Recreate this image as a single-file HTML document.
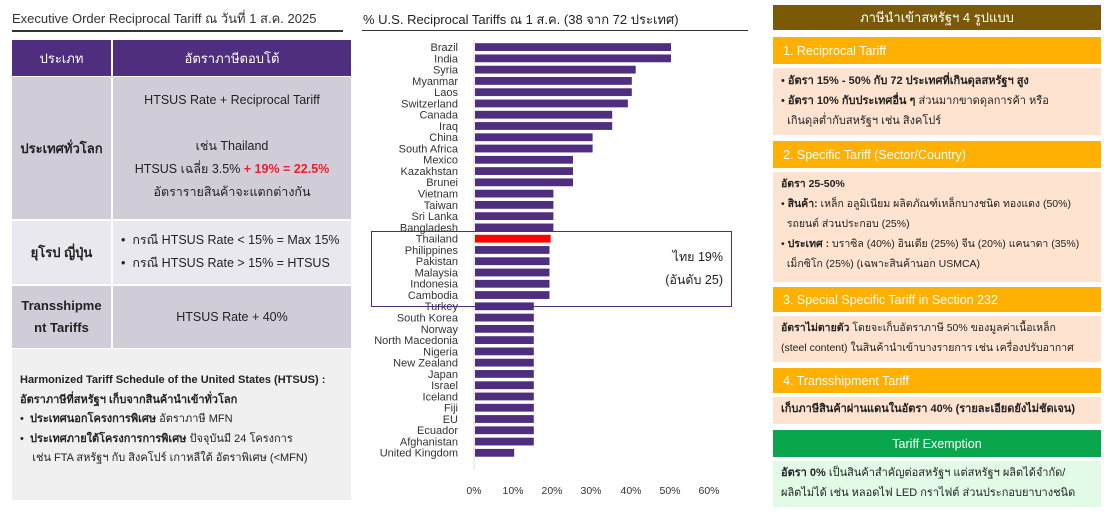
<!DOCTYPE html>
<html><head><meta charset="utf-8"><style>
*{box-sizing:border-box;margin:0;padding:0}
body{width:1104px;height:514px;background:#fff;position:relative;overflow:hidden;font-family:"Liberation Sans","Noto Sans CJK SC",sans-serif;color:#222}
.a{position:absolute}
.c{display:flex;align-items:center;justify-content:center;text-align:center}
.rh{color:#fff;font-size:12.5px;padding-left:10px;display:flex;align-items:center}
.rb{background:#fde3d0;font-size:11px;line-height:20px;padding:2px 8px;white-space:nowrap;overflow:hidden}
b{font-weight:bold}
</style></head><body>
<div class="a" style="left:12px;top:8px;font-size:13px;color:#333">Executive Order Reciprocal Tariff ณ วันที่ 1 ส.ค. 2025</div>
<div class="a" style="left:12px;top:30px;width:331px;height:2px;background:#333"></div>
<div class="a c" style="left:12px;top:40px;width:99px;height:36px;background:#4f2d7f;color:#fff;font-size:13px">ประเภท</div>
<div class="a c" style="left:113px;top:40px;width:238px;height:36px;background:#4f2d7f;color:#fff;font-size:13px">อัตราภาษีตอบโต้</div>
<div class="a c" style="left:12px;top:77px;width:99px;height:142px;background:#d0cdd9;font-size:13px;font-weight:bold">ประเทศทั่วโลก</div>
<div class="a" style="left:113px;top:77px;width:238px;height:142px;background:#d0cdd9;font-size:12.5px;text-align:center;line-height:23px;padding-top:12px">HTSUS Rate + Reciprocal Tariff<br><br>เช่น Thailand<br>HTSUS เฉลี่ย 3.5% <b style="color:#e8202a">+ 19% = 22.5%</b><br>อัตรารายสินค้าจะแตกต่างกัน</div>
<div class="a c" style="left:12px;top:221px;width:99px;height:63px;background:#e9e8ee;font-size:13px;font-weight:bold">ยุโรป ญี่ปุ่น</div>
<div class="a" style="left:113px;top:221px;width:238px;height:63px;background:#e9e8ee;font-size:12.5px;line-height:23px;padding:8px 0 0 8px">•&nbsp; กรณี HTSUS Rate &lt; 15% = Max 15%<br>•&nbsp; กรณี HTSUS Rate &gt; 15% = HTSUS</div>
<div class="a c" style="left:12px;top:286px;width:99px;height:62px;background:#d0cdd9;font-size:13px;font-weight:bold;line-height:22px">Transshipme<br>nt Tariffs</div>
<div class="a c" style="left:113px;top:286px;width:238px;height:62px;background:#d0cdd9;font-size:12.5px">HTSUS Rate + 40%</div>
<div class="a" style="left:12px;top:349px;width:339px;height:151px;background:#f0f0f0;font-size:11px;line-height:19.5px;padding:22px 0 0 8px"><b>Harmonized Tariff Schedule of the United States (HTSUS) :<br>อัตราภาษีที่สหรัฐฯ เก็บจากสินค้านำเข้าทั่วโลก</b><br>•&nbsp; <b>ประเทศนอกโครงการพิเศษ</b> อัตราภาษี MFN<br>•&nbsp; <b>ประเทศภายใต้โครงการการพิเศษ</b> ปัจจุบันมี 24 โครงการ<br>&nbsp;&nbsp;&nbsp;&nbsp;เช่น FTA สหรัฐฯ กับ สิงคโปร์ เกาหลีใต้ อัตราพิเศษ (&lt;MFN)</div>

<div class="a" style="left:363px;top:9px;font-size:13px;color:#222">% U.S. Reciprocal Tariffs ณ 1 ส.ค. (38 จาก 72 ประเทศ)</div>
<div class="a" style="left:362px;top:30px;width:386px;height:1px;background:#333"></div>
<svg class="a" style="left:0;top:0" width="1104" height="514">
<line x1="474" y1="40" x2="474" y2="470" stroke="#ddd"/>
<g font-family="Liberation Sans,sans-serif" font-size="11" fill="#333" text-anchor="end" id="g"></g>
<rect x="371.5" y="231.5" width="360" height="75" fill="none" stroke="#4f2d7f"/>
<text x="723" y="261" font-size="12.5" text-anchor="end" fill="#222" font-family="Liberation Sans,Noto Sans CJK SC,sans-serif">ไทย 19%</text>
<text x="723" y="284" font-size="12.5" text-anchor="end" fill="#222" font-family="Liberation Sans,Noto Sans CJK SC,sans-serif">(อันดับ 25)</text>
<g font-size="10.5" fill="#333" text-anchor="middle" font-family="Liberation Sans,sans-serif">
<text x="474" y="494">0%</text><text x="513" y="494">10%</text><text x="552" y="494">20%</text><text x="591" y="494">30%</text><text x="631" y="494">40%</text><text x="670" y="494">50%</text><text x="709" y="494">60%</text></g>
</svg>
<script>
var d=[["Brazil",50],["India",50],["Syria",41],["Myanmar",40],["Laos",40],["Switzerland",39],["Canada",35],["Iraq",35],["China",30],["South Africa",30],["Mexico",25],["Kazakhstan",25],["Brunei",25],["Vietnam",20],["Taiwan",20],["Sri Lanka",20],["Bangladesh",20],["Thailand",19.3],["Philippines",19],["Pakistan",19],["Malaysia",19],["Indonesia",19],["Cambodia",19],["Turkey",15],["South Korea",15],["Norway",15],["North Macedonia",15],["Nigeria",15],["New Zealand",15],["Japan",15],["Israel",15],["Iceland",15],["Fiji",15],["EU",15],["Ecuador",15],["Afghanistan",15],["United Kingdom",10]];
var s="",g=document.getElementById("g");
d.forEach(function(r,i){var y=47+i*11.27;s+='<rect x="475" y="'+(y-3.8)+'" width="'+(r[1]*3.92)+'" height="7.8" fill="'+(r[0]=="Thailand"?"#ff0000":"#4f2d7f")+'"/><text x="458" y="'+(y+4)+'">'+r[0]+'</text>';});
g.innerHTML=s;
</script>

<div class="a c" style="left:773px;top:5px;width:328px;height:25px;background:#7a5a06;color:#fff;font-size:13px">ภาษีนำเข้าสหรัฐฯ 4 รูปแบบ</div>
<div class="a rh" style="left:773px;top:37px;width:328px;height:27px;background:#ffb000">1. Reciprocal Tariff</div>
<div class="a rb" style="left:773px;top:68px;width:328px;height:67px;padding-top:3px">• <b>อัตรา 15% - 50% กับ 72 ประเทศที่เกินดุลสหรัฐฯ สูง</b><br>• <b>อัตรา 10% กับประเทศอื่น ๆ</b> ส่วนมากขาดดุลการค้า หรือ<br>&nbsp;&nbsp;เกินดุลต่ำกับสหรัฐฯ เช่น สิงคโปร์</div>
<div class="a rh" style="left:773px;top:141px;width:328px;height:27px;background:#ffb000">2. Specific Tariff (Sector/Country)</div>
<div class="a rb" style="left:773px;top:172px;width:328px;height:110px;padding-top:2px;font-size:10.5px"><b>อัตรา 25-50%</b><br>• <b>สินค้า:</b> เหล็ก อลูมิเนียม ผลิตภัณฑ์เหล็กบางชนิด ทองแดง (50%)<br>&nbsp;&nbsp;รถยนต์ ส่วนประกอบ (25%)<br>• <b>ประเทศ :</b> บราซิล (40%) อินเดีย (25%) จีน (20%) แคนาดา (35%)<br>&nbsp;&nbsp;เม็กซิโก (25%) (เฉพาะสินค้านอก USMCA)</div>
<div class="a rh" style="left:773px;top:287px;width:328px;height:25px;background:#ffb000">3. Special Specific Tariff in Section 232</div>
<div class="a rb" style="left:773px;top:316px;width:328px;height:46px;font-size:10.5px"><b>อัตราไม่ตายตัว</b> โดยจะเก็บอัตราภาษี 50% ของมูลค่าเนื้อเหล็ก<br>(steel content) ในสินค้านำเข้าบางรายการ เช่น เครื่องปรับอากาศ</div>
<div class="a rh" style="left:773px;top:368px;width:328px;height:25px;background:#ffb000">4. Transshipment Tariff</div>
<div class="a rb" style="left:773px;top:397px;width:328px;height:27px"><b>เก็บภาษีสินค้าผ่านแดนในอัตรา 40% (รายละเอียดยังไม่ชัดเจน)</b></div>
<div class="a c" style="left:773px;top:430px;width:328px;height:27px;background:#0aa64c;color:#fff;font-size:12.5px">Tariff Exemption</div>
<div class="a rb" style="left:773px;top:461px;width:328px;height:46px;background:#e2fbe6"><b>อัตรา 0%</b> เป็นสินค้าสำคัญต่อสหรัฐฯ แต่สหรัฐฯ ผลิตได้จำกัด/<br>ผลิตไม่ได้ เช่น หลอดไฟ LED กราไฟต์ ส่วนประกอบยาบางชนิด</div>
</body></html>
